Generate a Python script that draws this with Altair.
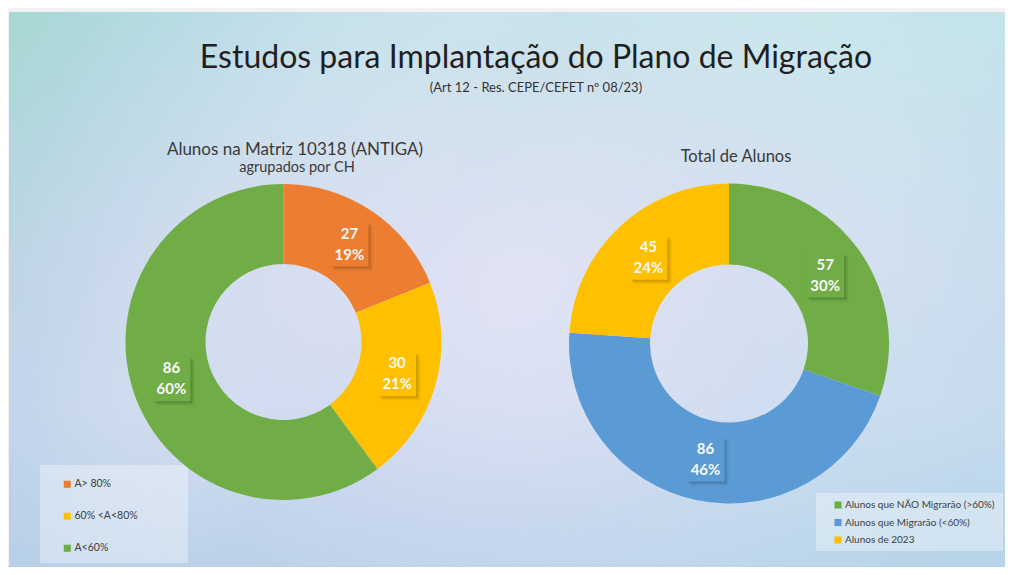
import altair as alt
import pandas as pd

# ---------------- data ----------------
left_categories = ["A> 80%", "60% <A<80%", "A<60%"]
left_values = [27, 30, 86]
left_percents = ["19%", "21%", "60%"]
left_colors = ["#ED7D31", "#FFC000", "#70AD47"]

right_categories = ["Alunos que NÃO Migrarão (>60%)", "Alunos que Migrarão (<60%)", "Alunos de 2023"]
right_values = [57, 86, 45]
right_percents = ["30%", "46%", "24%"]
right_colors = ["#70AD47", "#5B9BD5", "#FFC000"]

title_text = "Estudos para Implantação do Plano de Migração"
subtitle_text = "(Art 12 - Res. CEPE/CEFET nº 08/23)"
left_title = "Alunos na Matriz 10318 (ANTIGA)"
left_subtitle = "agrupados por CH"
right_title = "Total de Alunos"

# ---------------- layout ----------------
W, H = 997, 559
FONT = "Lato"
dummy = pd.DataFrame({"k": [0]})

xs = alt.Scale(domain=[0, W], range=[0, W], nice=False, zero=False)
ys = alt.Scale(domain=[0, H], range=[0, H], nice=False, zero=False)


def background():
    base_grad = alt.LinearGradient(
        gradient="linear",
        stops=[
            alt.GradientStop(color="#c2e3e8", offset=0),
            alt.GradientStop(color="#d2dbee", offset=0.45),
            alt.GradientStop(color="#cdd9ee", offset=0.7),
            alt.GradientStop(color="#b4cde7", offset=1),
        ],
        x1=0, y1=0, x2=0, y2=1,
    )
    side_grad = alt.LinearGradient(
        gradient="linear",
        stops=[
            alt.GradientStop(color="rgba(140,205,190,0.5)", offset=0),
            alt.GradientStop(color="rgba(160,200,225,0.25)", offset=0.22),
            alt.GradientStop(color="rgba(255,255,255,0)", offset=0.5),
            alt.GradientStop(color="rgba(185,225,238,0.3)", offset=1),
        ],
        x1=0, y1=0, x2=1, y2=0.35,
    )
    glow = alt.RadialGradient(
        gradient="radial",
        stops=[
            alt.GradientStop(color="rgba(245,238,252,0.4)", offset=0),
            alt.GradientStop(color="rgba(230,225,248,0.18)", offset=0.5),
            alt.GradientStop(color="rgba(255,255,255,0)", offset=1),
        ],
        x1=0.5, y1=0.5, r1=0, x2=0.5, y2=0.5, r2=0.5,
    )
    layers = []
    for g in (base_grad, side_grad, glow):
        layers.append(
            alt.Chart(dummy).mark_rect(fill=g, strokeWidth=0).encode(
                x=alt.value(1), x2=alt.value(W + 8), y=alt.value(4), y2=alt.value(H + 8)
            )
        )
    return layers


def text_value(txt, x, y, size, color="#333333", weight="normal"):
    return alt.Chart(dummy).mark_text(
        text=txt, font=FONT, fontSize=size, color=color, fontWeight=weight,
        align="center", baseline="middle",
    ).encode(x=alt.value(x), y=alt.value(y))


def legend_box(x1, x2, y1, y2):
    return alt.Chart(dummy).mark_rect(fill="white", opacity=0.35, strokeWidth=0).encode(
        x=alt.value(x1), x2=alt.value(x2), y=alt.value(y1), y2=alt.value(y2)
    )


def donut(cats, vals, pcts, colors, cx, cy, R, r, lx, ly, row_pad, lfs):
    df = pd.DataFrame({"cat": cats, "value": vals, "pct": pcts, "idx": list(range(len(cats)))})
    base = alt.Chart(df)
    arcs = base.mark_arc(outerRadius=R, innerRadius=r, strokeWidth=0).encode(
        theta=alt.Theta("value:Q", stack=True),
        order=alt.Order("idx:Q"),
        color=alt.Color(
            "cat:N",
            scale=alt.Scale(domain=cats, range=colors),
            sort=cats,
            legend=alt.Legend(
                orient="none", legendX=lx, legendY=ly, title=None,
                symbolType="square", symbolSize=50, symbolStrokeWidth=0, symbolOpacity=1,
                labelFont=FONT, labelFontSize=lfs, labelColor="#404040", labelOffset=2,
                labelLimit=400, rowPadding=row_pad, padding=0, direction="vertical",
            ),
        ),
        x=alt.value(cx),
        y=alt.value(cy),
    )
    LR = 118
    lab = base.transform_window(
        cum="sum(value)", sort=[alt.SortField("idx")]
    ).transform_joinaggregate(
        total="sum(value)"
    ).transform_calculate(
        ang="(datum.cum - datum.value/2) / datum.total * 2 * PI",
        px=f"{cx} + {LR} * sin(datum.ang)",
        py=f"{cy} - {LR} * cos(datum.ang)",
        label="datum.value + '\\n' + datum.pct",
    )
    box_shape = "M-0.85,-1H0.85V1H-0.85Z"
    enc_xy = dict(x=alt.X("px:Q", scale=xs, axis=None), y=alt.Y("py:Q", scale=ys, axis=None))
    shadow2 = lab.mark_point(
        shape=box_shape, size=2000, filled=True, color="black", opacity=0.07,
        strokeWidth=0, xOffset=4, yOffset=4,
    ).encode(**enc_xy)
    shadow = lab.mark_point(
        shape=box_shape, size=2000, filled=True, color="black", opacity=0.12,
        strokeWidth=0, xOffset=2, yOffset=2,
    ).encode(**enc_xy)
    box = lab.mark_point(
        shape=box_shape, size=2000, filled=True, opacity=1, strokeWidth=0,
    ).encode(
        color=alt.Color("cat:N", scale=alt.Scale(domain=cats, range=colors), legend=None),
        **enc_xy,
    )
    txt = lab.mark_text(
        font=FONT, fontSize=15, fontWeight="bold", color="#f8f8f8",
        lineBreak="\n", lineHeight=21, align="center", baseline="middle", dy=-10.5,
    ).encode(text="label:N", **enc_xy)
    return [arcs, shadow2, shadow, box, txt]


layers = background()
layers += [
    text_value(title_text, 528, 50, 32, color="#1f1f1f"),
    text_value(subtitle_text, 528, 80, 13, color="#333333"),
    text_value(left_title, 287, 142, 17, color="#3a3a3a"),
    text_value(left_subtitle, 289, 160, 14.5, color="#3a3a3a"),
    text_value(right_title, 728, 149, 16.5, color="#3a3a3a"),
    legend_box(32, 180, 457, 555),
    legend_box(808, 995, 485, 543),
]
layers += donut(left_categories, left_values, left_percents, left_colors,
                275.5, 334, 158, 78, 54, 471, 21, 10.5)
layers += donut(right_categories, right_values, right_percents, right_colors,
                721, 335.5, 160, 79, 825, 492, 7.5, 10)

chart = alt.layer(*layers).resolve_scale(
    color="independent", theta="independent"
).properties(
    width=W, height=H, padding=0, autosize="none", background="#f2f2f2"
).configure_view(stroke=None)

chart.save("out.html", embed_options={"renderer": "svg", "actions": False})
